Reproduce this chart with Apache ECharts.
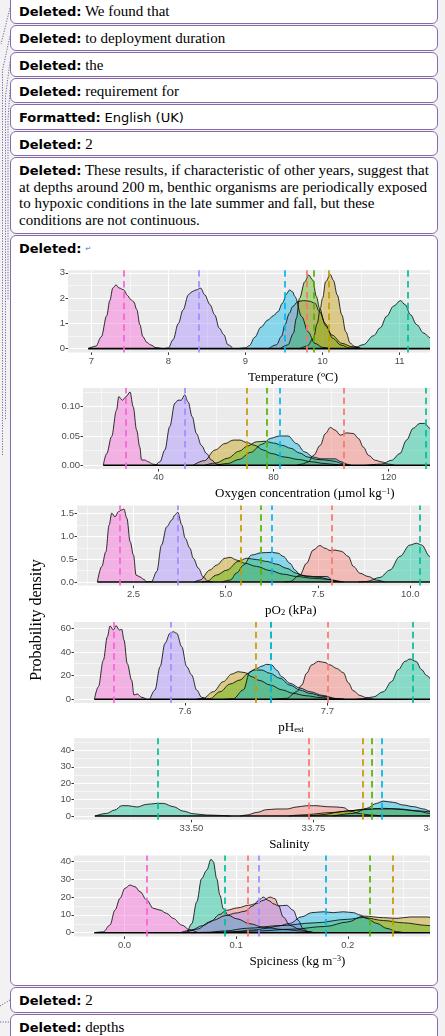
<!DOCTYPE html>
<html>
<head>
<meta charset="utf-8">
<script src="https://cdn.jsdelivr.net/npm/echarts@6/dist/echarts.min.js"></script>
<style>
  html, body { margin: 0; padding: 0; width: 445px; height: 1036px; overflow: hidden; background: #f2f2f2; }
  .box { position: absolute; left: 10px; width: 428px; box-sizing: border-box; border: 1px solid #8a6aae;
         border-radius: 6px; background: #fff; padding: 4px 8px 0 8px; white-space: nowrap;
         font: 15px/16.7px "Liberation Serif", serif; color: #000; }
  .box b { font: bold 13px "DejaVu Sans", sans-serif; }
  .box .sans { font: 13px "DejaVu Sans", sans-serif; }
  .box .mark { font: 7px "DejaVu Sans", sans-serif; color: #3f73d6; vertical-align: 2px; }
  #clip { position: absolute; left: 11px; top: 256px; width: 419px; height: 730px; overflow: hidden; }
  #chart { position: absolute; left: -11px; top: -256px; width: 540px; height: 1036px; }
  svg.lead { position: absolute; left: 0; top: 0; }
</style>
</head>
<body>
<svg class="lead" width="12" height="1036">
  <g stroke="#7d5fa6" stroke-width="1" stroke-dasharray="1.2 1.4" fill="none">
    <path d="M10 8 L1 44"/>
    <path d="M10 36 L2.5 70 L2.5 455"/>
    <path d="M10 62 L5.5 96 L5.5 420"/>
    <path d="M10 90 L8 120 L8 300"/>
    <path d="M0 1006 L10 1000"/>
    <path d="M0 1022 L10 1022"/>
  </g>
</svg>

<div class="box" style="top:-6px;height:30px;padding-top:8px"><b>Deleted:</b> We found that</div>
<div class="box" style="top:25px;height:26px"><b>Deleted:</b> to deployment duration</div>
<div class="box" style="top:52px;height:25px"><b>Deleted:</b> the</div>
<div class="box" style="top:78px;height:25px"><b>Deleted:</b> requirement for</div>
<div class="box" style="top:104px;height:26px"><b>Formatted:</b> <span class="sans">English (UK)</span></div>
<div class="box" style="top:131px;height:25px"><b>Deleted:</b> 2</div>
<div class="box" style="top:157px;height:77px"><b>Deleted:</b> These results, if characteristic of other years, suggest that<br>at depths around 200 m, benthic organisms are periodically exposed<br>to hypoxic conditions in the late summer and fall, but these<br>conditions are not continuous.</div>
<div class="box" style="top:235px;height:751px"><b>Deleted:</b> <span class="mark">↵</span></div>
<div class="box" style="top:987px;height:26px"><b>Deleted:</b> 2</div>
<div class="box" style="top:1014px;height:30px"><b>Deleted:</b> depths</div>

<div id="clip"><div id="chart"></div></div>

<script>
// Group colours (ggplot hue palette, 7 groups) in drawing order
const palette = ['#F8766D', '#C49A00', '#53B400', '#00C094', '#00B6EB', '#A58AFF', '#FB61D7'];

// ---- Temperature (°C) ----
const tempMeans = [9.80, 10.077, 9.88, 11.10, 9.505, 8.395, 7.416];
const tempCurves = [
  [[9.3,0],[9.4,0.15],[9.47,0.5],[9.51,0.94],[9.57,1.4],[9.61,1.66],[9.68,1.86],[9.75,1.9],[9.82,1.88],[9.9,1.8],[9.96,1.46],[10.05,0.87],[10.13,0.41],[10.24,0.14],[10.35,0.03],[10.45,0]],
  [[9.7,0],[9.8,0.1],[9.88,0.4],[9.93,1.0],[9.97,1.6],[10.0,2.0],[10.04,2.65],[10.1,2.93],[10.14,2.7],[10.19,2.12],[10.25,1.33],[10.3,0.67],[10.36,0.21],[10.42,0.08],[10.5,0]],
  [[9.45,0],[9.55,0.15],[9.62,0.6],[9.66,1.2],[9.7,1.99],[9.77,2.65],[9.82,2.91],[9.87,2.72],[9.92,2.06],[9.96,1.6],[10.03,1.0],[10.12,0.54],[10.25,0.21],[10.38,0.08],[10.5,0]],
  [[10.35,0],[10.4,0.02],[10.53,0.16],[10.66,0.51],[10.75,0.83],[10.83,1.28],[10.92,1.68],[11.01,1.9],[11.07,1.74],[11.14,1.34],[11.22,0.95],[11.31,0.62],[11.4,0.42],[11.5,0.25],[11.6,0.1],[11.7,0.02],[11.8,0]],
  [[8.9,0],[9.0,0.03],[9.05,0.12],[9.12,0.45],[9.2,0.85],[9.29,1.13],[9.36,1.3],[9.42,1.46],[9.48,1.8],[9.53,2.15],[9.57,2.32],[9.61,2.25],[9.64,2.06],[9.73,1.26],[9.81,0.67],[9.9,0.21],[10.0,0.05],[10.1,0]],
  [[7.95,0],[8.0,0.03],[8.06,0.35],[8.13,1.0],[8.19,1.53],[8.26,2.13],[8.31,2.26],[8.36,2.32],[8.42,2.39],[8.47,2.13],[8.54,1.74],[8.6,1.34],[8.66,0.81],[8.72,0.55],[8.77,0.16],[8.84,0]],
  [[6.96,0],[7.06,0.1],[7.13,0.47],[7.2,1.3],[7.24,1.9],[7.28,2.4],[7.32,2.52],[7.36,2.4],[7.42,2.33],[7.47,2.1],[7.51,1.95],[7.55,1.85],[7.59,1.55],[7.63,0.95],[7.67,0.47],[7.72,0.25],[7.77,0.15],[7.84,0.04],[7.92,0]]
];
const tempXTicks = ['7', '8', '9', '10', '11', '12'];
const tempXMinor = [7.5, 8.5, 9.5, 10.5, 11.5, 12.5];
const tempYTicks = ['0', '1', '2', '3'];
const tempYMinor = [0.5, 1.5, 2.5];

// ---- Oxygen concentration (µmol kg-1) ----
const oxyMeans = [104.5, 70.7, 77.7, 133.0, 82.3, 49.2, 28.7];
const oxyCurves = [
  [[88,0],[89.8,0.002],[92,0.0057],[93.9,0.017],[96.2,0.034],[98,0.054],[99.7,0.0645],[101.4,0.06],[103.2,0.0514],[105.5,0.0553],[107.8,0.054],[109.5,0.0457],[111.2,0.031],[113,0.017],[115.3,0.0086],[117.6,0.0057],[119.9,0.002],[122,0]],
  [[52,0],[56,0.008],[59.6,0.026],[63.1,0.037],[66,0.043],[68.3,0.043],[70.6,0.039],[73.5,0.034],[76.4,0.026],[79.3,0.02],[83.9,0.014],[88.6,0.01],[93.2,0.006],[97.8,0.003],[102.4,0.001],[106,0]],
  [[56,0],[60,0.004],[64,0.012],[68,0.024],[71,0.033],[74,0.04],[77,0.041],[80,0.038],[83,0.034],[86,0.029],[89,0.021],[92,0.014],[95,0.01],[98,0.009],[101,0.007],[104,0.003],[107,0]],
  [[112,0],[117.5,0.002],[121,0.0086],[123.9,0.02],[126.2,0.043],[128.5,0.063],[130.8,0.0714],[132.5,0.0714],[134.3,0.063],[136.5,0.047],[138.5,0.028],[140.5,0.012],[143,0.003],[146,0]],
  [[60,0],[64,0.003],[68,0.01],[72,0.022],[76,0.036],[79,0.046],[82,0.05],[85,0.05],[88,0.037],[90.8,0.023],[93.8,0.014],[96.5,0.011],[99,0.011],[101.3,0.011],[103.6,0.006],[105.5,0]],
  [[39,0],[40.5,0.006],[42.2,0.026],[43.9,0.066],[45.7,0.106],[46.8,0.111],[47.9,0.111],[49.1,0.12],[50.3,0.108],[51.7,0.083],[53.2,0.054],[54.9,0.034],[56.7,0.02],[58.4,0.009],[60.2,0.002],[62,0]],
  [[20.8,0],[22,0.02],[23.7,0.049],[25.4,0.094],[26.2,0.117],[27.5,0.111],[28.7,0.117],[30.1,0.125],[31.2,0.1],[32.4,0.06],[33.5,0.031],[34.1,0.009],[35.2,0.009],[36.5,0.006],[38,0.002],[40,0]]
];
const oxyXTicks = ['40', '80', '120', '160'];
const oxyXMinor = [20, 60, 100, 140];
const oxyYTicks = ['0.00', '0.05', '0.10'];
const oxyYMinor = [0.025, 0.075, 0.125];

// ---- pO2 (kPa) ----
const po2Means = [7.87, 5.42, 5.94, 10.27, 6.26, 3.71, 2.115];
const po2Curves = [
  [[6.6,0],[6.74,0.01],[7.01,0.15],[7.19,0.41],[7.37,0.7],[7.55,0.8],[7.69,0.74],[7.83,0.69],[7.96,0.7],[8.14,0.67],[8.32,0.56],[8.46,0.34],[8.64,0.19],[8.86,0.12],[9.09,0.04],[9.3,0]],
  [[4.15,0],[4.3,0.04],[4.57,0.26],[4.75,0.37],[4.98,0.52],[5.12,0.54],[5.3,0.48],[5.52,0.41],[5.84,0.34],[6.2,0.25],[6.56,0.17],[6.92,0.12],[7.37,0.08],[7.74,0.06],[8.0,0.02],[8.2,0]],
  [[4.35,0],[4.48,0.01],[4.75,0.15],[5.03,0.26],[5.34,0.45],[5.57,0.52],[5.84,0.49],[6.11,0.45],[6.38,0.39],[6.65,0.3],[6.92,0.19],[7.19,0.12],[7.55,0.1],[7.83,0.05],[8.1,0]],
  [[8.6,0],[8.82,0.01],[9.18,0.1],[9.45,0.26],[9.72,0.56],[9.99,0.81],[10.17,0.85],[10.31,0.81],[10.53,0.56],[10.7,0.3],[10.9,0.1],[11.1,0.02],[11.3,0]],
  [[4.9,0],[5.12,0.04],[5.3,0.2],[5.48,0.37],[5.7,0.59],[5.97,0.64],[6.25,0.65],[6.42,0.63],[6.56,0.56],[6.74,0.41],[6.88,0.26],[7.01,0.15],[7.37,0.12],[7.74,0.12],[7.93,0.02],[8.1,0]],
  [[2.85,0],[2.99,0.01],[3.13,0.23],[3.26,0.81],[3.4,1.21],[3.54,1.36],[3.62,1.47],[3.7,1.53],[3.81,1.25],[3.9,0.96],[4.03,0.74],[4.12,0.52],[4.26,0.3],[4.39,0.11],[4.52,0.015],[4.65,0]],
  [[1.52,0],[1.64,0.34],[1.75,0.66],[1.84,1.25],[1.91,1.51],[2.0,1.43],[2.09,1.54],[2.18,1.58],[2.24,1.6],[2.32,1.4],[2.41,0.88],[2.5,0.59],[2.57,0.15],[2.68,0.11],[2.77,0.06],[2.85,0]]
];
const po2XTicks = ['2.5', '5.0', '7.5', '10.0', '12.5'];
const po2XMinor = [1.25, 3.75, 6.25, 8.75, 11.25];
const po2YTicks = ['0.0', '0.5', '1.0', '1.5'];
const po2YMinor = [0.25, 0.75, 1.25];

// ---- pH (estimated) ----
const phMeans = [7.6982, 7.6468, 7.6556, 7.762, 7.6587, 7.5937, 7.55];
const phCurves = [
  [[7.662,0],[7.6714,0.8],[7.6784,6.4],[7.6819,12],[7.6854,22],[7.6889,29],[7.6936,32],[7.6982,31],[7.7018,29],[7.7065,26],[7.7111,22.5],[7.7146,14],[7.7181,7.3],[7.7228,3.2],[7.727,1.5],[7.732,0]],
  [[7.608,0],[7.6128,0.8],[7.6199,6.4],[7.6269,14.9],[7.6328,21.3],[7.6374,23.3],[7.6421,22.5],[7.6468,19.1],[7.652,16],[7.66,12],[7.668,8],[7.676,5],[7.685,3],[7.695,1.5],[7.705,0]],
  [[7.612,0],[7.6175,0.5],[7.6246,6.4],[7.6316,12.9],[7.6386,16.3],[7.6444,22],[7.648,24.7],[7.6538,24.7],[7.6596,22],[7.6667,17.7],[7.6737,12],[7.6807,7.8],[7.6877,5],[7.697,2.5],[7.706,0.6],[7.712,0]],
  [[7.72,0],[7.7251,0.5],[7.7322,2],[7.7392,6.4],[7.745,15],[7.7497,25],[7.7544,32],[7.7579,34],[7.7621,32],[7.7661,25],[7.7696,20],[7.775,14],[7.78,8],[7.79,3],[7.8,0]],
  [[7.628,0],[7.6339,0.5],[7.641,8],[7.6456,23.3],[7.6503,26],[7.654,28],[7.6573,29.5],[7.6608,29],[7.6643,24.7],[7.6679,19],[7.6737,13.5],[7.6807,9.5],[7.6877,6.4],[7.697,3.2],[7.706,0.6],[7.712,0]],
  [[7.5754,0],[7.5789,7.8],[7.5825,27.5],[7.586,47.3],[7.5895,55.7],[7.5918,57],[7.5942,55.7],[7.5977,44.4],[7.6012,27.5],[7.6047,20.5],[7.6082,7.8],[7.6117,1.7],[7.6152,0]],
  [[7.5364,0],[7.5392,10.6],[7.5427,33],[7.5455,52.8],[7.5474,61.9],[7.5497,58.5],[7.5516,62.2],[7.5539,58.5],[7.5556,59],[7.5572,50],[7.5595,30],[7.5626,16],[7.5642,3.6],[7.5665,4.5],[7.5696,1.7],[7.573,0]]
];
const phXTicks = ['7.6', '7.7', '7.8'];
const phXMinor = [7.55, 7.65, 7.75];
const phYTicks = ['0', '20', '40', '60'];
const phYMinor = [10, 30, 50];

// ---- Salinity ----
const salMeans = [33.744, 33.853, 33.869, 33.427, 33.892, null, null];
const salCurves = [
  [[33.6,0],[33.613,0.6],[33.634,2.2],[33.654,3.9],[33.675,4.3],[33.695,4.3],[33.716,5.5],[33.736,6.3],[33.757,6.3],[33.777,5.7],[33.798,5.5],[33.812,5.1],[33.825,3],[33.846,1.4],[33.866,0.6],[33.89,0]],
  [[33.7,0],[33.722,0.6],[33.791,2.2],[33.832,3.4],[33.873,4.3],[33.914,4.3],[33.955,3.4],[33.989,2.6],[34.02,1.8],[34.06,0.8],[34.1,0]],
  [[33.74,0],[33.76,0.6],[33.818,3],[33.859,4.3],[33.893,4.7],[33.928,4.3],[33.962,3],[33.989,1.6],[34.02,0.6],[34.05,0]],
  [[33.302,0],[33.326,1.6],[33.343,3.7],[33.357,6.3],[33.37,6.3],[33.388,5.5],[33.408,7.1],[33.429,7.7],[33.442,7.7],[33.463,5.7],[33.483,3.0],[33.504,1.4],[33.531,0.6],[33.58,0]],
  [[33.79,0],[33.832,1.6],[33.859,4.7],[33.879,7.7],[33.893,9.1],[33.914,8.3],[33.934,6.7],[33.955,5.7],[33.976,4.3],[33.989,3],[34.02,1.2],[34.05,0]],
  null,
  null
];
const salXTicks = ['33.50', '33.75', '34.00'];
const salXMinor = [33.375, 33.625, 33.875, 34.125];
const salYTicks = ['0', '10', '20', '30', '40'];
const salYMinor = [5, 15, 25, 35, 45];

// ---- Spiciness (kg m-3) ----
const spiMeans = [0.1115, 0.2432, 0.2235, 0.090, 0.1787, 0.124, 0.01747];
const spiCurves = [
  [[0.055,0],[0.065,2],[0.0766,6],[0.0855,10.3],[0.0911,12.5],[0.1016,13.9],[0.1109,15.3],[0.1184,16.3],[0.1243,18.1],[0.1303,19.9],[0.1348,19],[0.1378,15.3],[0.1422,8.8],[0.1482,4.1],[0.1572,1.8],[0.165,0]],
  [[0.09,0],[0.12,1],[0.15,2],[0.18,3.5],[0.2,6],[0.214,9.3],[0.232,8.4],[0.244,8],[0.256,8.8],[0.271,8.8],[0.285,7],[0.3,4],[0.32,1],[0.33,0]],
  [[0.075,0],[0.09,1],[0.11,2.5],[0.14,4],[0.17,5.5],[0.2,7.5],[0.214,8.5],[0.232,6.8],[0.25,5.5],[0.271,4.1],[0.29,2.5],[0.31,1],[0.33,0]],
  [[0.052,0],[0.0557,0.4],[0.0602,5],[0.0647,17.2],[0.0691,30.2],[0.0736,34.9],[0.0775,41],[0.0795,39.7],[0.0826,30.2],[0.0855,20.9],[0.0885,13.4],[0.093,9.7],[0.1005,7.8],[0.1124,5],[0.1243,3.1],[0.1422,1.8],[0.16,0.9],[0.17,0]],
  [[0.06,0],[0.08,0.3],[0.097,0.6],[0.115,1.5],[0.127,2.4],[0.138,3.8],[0.148,5.2],[0.1587,8.9],[0.1677,11.2],[0.178,11.7],[0.187,11.2],[0.196,11.7],[0.205,11.2],[0.211,9.9],[0.217,8.0],[0.226,5.2],[0.235,2.4],[0.244,0.6],[0.25,0]],
  [[0.05,0],[0.06,1.5],[0.07,4],[0.08,7],[0.09,9.5],[0.1,11],[0.108,12],[0.115,15],[0.12,18],[0.1243,19.9],[0.129,18],[0.134,16],[0.1378,15],[0.1453,15.3],[0.1512,12.5],[0.1555,7],[0.16,2.3],[0.1647,0.6],[0.17,0]],
  [[-0.027,0],[-0.019,0.5],[-0.013,4.3],[-0.0085,12.7],[-0.004,19.2],[0.0004,24.8],[0.0049,26.6],[0.0094,25.7],[0.0139,22.9],[0.0199,18.3],[0.0258,13.6],[0.0318,12.7],[0.0378,10.8],[0.0437,8.0],[0.0512,4.3],[0.0587,1.5],[0.066,0]]
];
const spiXTicks = ['0.0', '0.1', '0.2', '0.3'];
const spiXMinor = [0.05, 0.15, 0.25, 0.35];
const spiYTicks = ['0', '10', '20', '30', '40'];
const spiYMinor = [5, 15, 25, 35];

// Panel layout (pixel boxes and axis extents) for the six stacked density plots
const panels = [
  { title: 'Temperature (ºC)', curves: tempCurves, means: tempMeans,
    grid: { left: 68, top: 270.3, width: 450, height: 82.1 }, x: [6.698, 12.534], y: [-0.1475, 3.0975],
    xt: tempXTicks, xm: tempXMinor, yt: tempYTicks, ym: tempYMinor },
  { title: 'Oxygen concentration (µmol kg{sup|−1})', curves: oxyCurves, means: oxyMeans,
    grid: { left: 83, top: 388, width: 443.7, height: 81 }, x: [13.76, 167.96], y: [-0.0063, 0.1318],
    xt: oxyXTicks, xm: oxyXMinor, yt: oxyYTicks, ym: oxyYMinor },
  { title: 'pO{sub|2} (kPa)', curves: po2Curves, means: po2Means,
    grid: { left: 77, top: 505.4, width: 427.7, height: 80.2 }, x: [0.969, 12.56], y: [-0.08, 1.68],
    xt: po2XTicks, xm: po2XMinor, yt: po2YTicks, ym: po2YMinor },
  { title: 'pH{sub|est}', curves: phCurves, means: phMeans,
    grid: { left: 74, top: 621.9, width: 434, height: 81.1 }, x: [7.5221, 7.8267], y: [-3.11, 65.3],
    xt: phXTicks, xm: phXMinor, yt: phYTicks, ym: phYMinor },
  { title: 'Salinity', curves: salCurves, means: salMeans,
    grid: { left: 74, top: 738.3, width: 430.7, height: 81.5 }, x: [33.2592, 34.1418], y: [-2.3, 47.4],
    xt: salXTicks, xm: salXMinor, yt: salYTicks, ym: salYMinor },
  { title: 'Spiciness (kg m{sup|−3})', curves: spiCurves, means: spiMeans,
    grid: { left: 74, top: 855.6, width: 446.7, height: 80.8 }, x: [-0.04523, 0.35486], y: [-2.05, 43.05],
    xt: spiXTicks, xm: spiXMinor, yt: spiYTicks, ym: spiYMinor }
];

function fillOf(hex, a) {
  const n = parseInt(hex.slice(1), 16);
  return 'rgba(' + (n >> 16) + ',' + ((n >> 8) & 255) + ',' + (n & 255) + ',' + a + ')';
}
function tickText(labels, v) {
  const s = labels.find(l => Math.abs(Number(l) - v) < 1e-9);
  return s === undefined ? '' : s;
}

const tickFont = { fontFamily: 'Liberation Sans', fontSize: 9.5, color: '#4D4D4D' };
const serif = 'Liberation Serif';
const noLine = { show: false, onZero: false };
const grids = [], xAxes = [], yAxes = [], series = [];

panels.forEach((p, gi) => {
  grids.push(Object.assign({ show: true, backgroundColor: '#EBEBEB', borderWidth: 0 }, p.grid));

  // major x axis: labels, ticks, major grid lines, title
  xAxes.push({
    type: 'value', gridIndex: gi, min: p.x[0], max: p.x[1], position: 'bottom',
    axisLine: noLine,
    axisTick: { show: true, length: 2.5, lineStyle: { color: '#333', width: 1 }, customValues: p.xt.map(Number) },
    axisLabel: Object.assign({ show: true, margin: 3.5, customValues: p.xt.map(Number),
      formatter: v => tickText(p.xt, v) }, tickFont),
    splitLine: { show: true, lineStyle: { color: '#fff', width: 1.1 } },
    name: p.title, nameLocation: 'middle', nameGap: 18.5,
    nameTextStyle: { fontFamily: serif, fontSize: 13, color: '#000',
      rich: { sup: { fontFamily: serif, fontSize: 8, color: '#000', verticalAlign: 'top' },
              sub: { fontFamily: serif, fontSize: 8.5, color: '#000', verticalAlign: 'bottom' } } }
  });
  // minor x grid lines
  xAxes.push({
    type: 'value', gridIndex: gi, min: p.x[0], max: p.x[1], position: 'bottom',
    axisLine: noLine, axisLabel: { show: false },
    axisTick: { show: false, customValues: p.xm },
    splitLine: { show: true, lineStyle: { color: '#fff', width: 0.55 } }
  });
  // major y axis
  yAxes.push({
    type: 'value', gridIndex: gi, min: p.y[0], max: p.y[1], position: 'left',
    axisLine: noLine,
    axisTick: { show: true, length: 2.5, lineStyle: { color: '#333', width: 1 }, customValues: p.yt.map(Number) },
    axisLabel: Object.assign({ show: true, margin: 3, customValues: p.yt.map(Number),
      formatter: v => tickText(p.yt, v) }, tickFont),
    splitLine: { show: true, lineStyle: { color: '#fff', width: 1.1 } }
  });
  // minor y grid lines
  yAxes.push({
    type: 'value', gridIndex: gi, min: p.y[0], max: p.y[1], position: 'left',
    axisLine: noLine, axisLabel: { show: false },
    axisTick: { show: false, customValues: p.ym },
    splitLine: { show: true, lineStyle: { color: '#fff', width: 0.55 } }
  });

  let lo = Infinity, hi = -Infinity;
  p.curves.forEach((c, k) => {
    if (!c) return;
    lo = Math.min(lo, c[0][0]);
    hi = Math.max(hi, c[c.length - 1][0]);
    series.push({
      type: 'line', xAxisIndex: 2 * gi, yAxisIndex: 2 * gi, data: c,
      smooth: 0.35, smoothMonotone: 'x', symbol: 'none', silent: true, z: 2,
      lineStyle: { color: '#000', width: 0.8 },
      areaStyle: { color: fillOf(palette[k], 0.42), opacity: 1 },
      markLine: p.means[k] == null ? undefined : {
        silent: true, symbol: 'none', label: { show: false },
        lineStyle: { color: palette[k], type: [6.5, 4.3], width: 1.7 },
        data: [{ xAxis: p.means[k] }]
      }
    });
  });
  // common zero line under the densities
  series.push({
    type: 'line', xAxisIndex: 2 * gi, yAxisIndex: 2 * gi, data: [[lo, 0], [hi, 0]],
    symbol: 'none', silent: true, z: 3, lineStyle: { color: '#000', width: 1.6 }
  });
});

const chart = echarts.init(document.getElementById('chart'), null, { renderer: 'canvas', width: 540, height: 1036 });
chart.setOption({
  animation: false,
  grid: grids,
  xAxis: xAxes,
  yAxis: yAxes,
  series: series,
  graphic: [{
    type: 'text', x: 37, y: 620, rotation: Math.PI / 2, silent: true,
    style: { text: 'Probability density', font: '16px "Liberation Serif"', fill: '#000',
             textAlign: 'center', textVerticalAlign: 'middle' }
  }]
});
</script>
</body>
</html>
